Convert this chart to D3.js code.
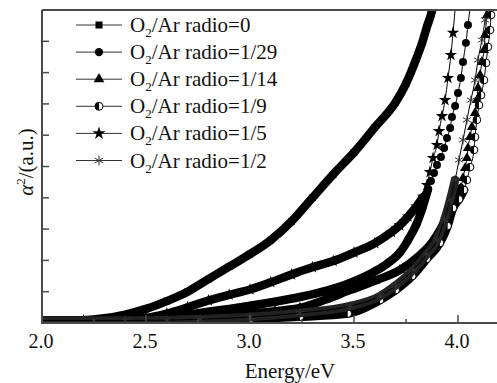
<!DOCTYPE html>
<html>
<head>
<meta charset="utf-8">
<script src="https://cdn.jsdelivr.net/npm/d3@7"></script>
<style>
  body { margin: 0; background: #fff; }
  svg { display: block; font-family: "Liberation Serif", "Times New Roman", serif; }
</style>
</head>
<body>
<svg id="chart" width="497" height="383"></svg>
<script>
// tick values / labels
const energyTicks = [2.0, 2.5, 3.0, 3.5, 4.0];
const energyMinor = [2.25, 2.75, 3.25, 3.75];
const alphaTicks = [0, 1, 2, 3, 4, 5, 6, 7, 8, 9, 10];
const legendLabels = ["=0", "=1/29", "=1/14", "=1/9", "=1/5", "=1/2"];

// series, [energy (eV), alpha^2 (a.u.)]
const ratio0 = [[2.00,0.08],[2.10,0.08],[2.20,0.09],[2.30,0.15],[2.40,0.27],[2.50,0.45],[2.60,0.70],[2.70,1.00],
  [2.80,1.40],[2.90,1.80],[3.00,2.20],[3.10,2.65],[3.20,3.25],[3.30,4.00],[3.40,4.75],[3.50,5.45],[3.60,6.25],
  [3.70,7.05],[3.75,7.65],[3.80,8.45],[3.83,9.00],[3.85,9.45],[3.87,9.85],[3.88,10.1]];
const ratio1_29 = [[2.00,0.08],[2.20,0.08],[2.40,0.09],[2.50,0.11],[2.60,0.16],[2.70,0.26],[2.80,0.36],[2.90,0.45],
  [3.00,0.55],[3.12,0.68],[3.24,0.83],[3.36,1.02],[3.48,1.28],[3.60,1.65],[3.66,1.90],[3.72,2.25],[3.76,2.65],
  [3.80,3.15],[3.83,3.70],[3.856,4.28],[3.870,4.54],[3.885,4.79],[3.899,5.05],[3.918,5.30],[3.933,5.59],
  [3.947,5.91],[3.962,6.23],[3.971,6.58],[3.986,6.93],[4.000,7.35],[4.014,7.83],[4.024,8.34],[4.038,8.95],
  [4.048,9.52],[4.06,10.15]];
const ratio1_14 = [[2.00,0.08],[2.30,0.08],[2.50,0.09],[2.60,0.10],[2.76,0.16],[2.90,0.23],[3.00,0.30],[3.12,0.38],
  [3.24,0.48],[3.36,0.74],[3.48,1.05],[3.60,1.35],[3.72,1.69],[3.817,2.17],[3.865,2.49],[3.913,2.97],[3.952,3.45],
  [3.986,3.93],[4.014,4.31],[4.024,4.63],[4.034,4.95],[4.043,5.27],[4.048,5.59],[4.058,5.94],[4.067,6.26],
  [4.082,6.71],[4.091,7.12],[4.096,7.51],[4.106,7.92],[4.115,8.34],[4.125,8.72],[4.130,9.20],[4.140,9.84],[4.146,10.2]];
const ratio1_9 = [[2.00,0.08],[2.40,0.08],[2.70,0.09],[2.90,0.11],[3.00,0.13],[3.24,0.20],[3.47,0.30],[3.625,0.73],
  [3.70,1.05],[3.78,1.50],[3.85,2.05],[3.913,2.56],[3.950,3.10],[3.976,3.67],[4.005,3.95],[4.029,4.25],[4.043,4.57],
  [4.058,4.98],[4.077,5.53],[4.082,5.94],[4.091,6.49],[4.101,6.96],[4.111,7.28],[4.125,7.76],[4.135,8.31],
  [4.144,8.82],[4.154,9.36],[4.159,9.84],[4.165,10.2]];
const ratio1_5 = [[2.00,0.08],[2.20,0.08],[2.40,0.10],[2.50,0.16],[2.60,0.30],[2.70,0.50],[2.80,0.72],[2.90,0.90],
  [3.00,1.07],[3.10,1.30],[3.20,1.55],[3.30,1.78],[3.40,1.98],[3.50,2.25],[3.60,2.55],[3.68,2.90],[3.72,3.12],
  [3.76,3.40],[3.80,3.72],[3.832,4.03],[3.851,4.41],[3.865,4.82],[3.880,5.27],[3.899,5.69],[3.909,6.13],
  [3.923,6.61],[3.938,7.12],[3.952,7.83],[3.966,8.56],[3.976,9.27],[3.99,10.3]];
const ratio1_2 = [[2.00,0.08],[2.40,0.08],[2.60,0.09],[2.76,0.12],[3.00,0.19],[3.24,0.32],[3.48,0.54],[3.625,0.86],
  [3.70,1.20],[3.784,1.69],[3.85,2.20],[3.899,2.65],[3.935,3.30],[3.962,3.93],[3.986,4.57],[4.005,5.21],[4.024,5.85],
  [4.043,6.49],[4.062,7.12],[4.082,7.76],[4.096,8.40],[4.115,9.04],[4.130,9.68],[4.14,10.2]];

const series = [
  { data: ratio0, sym: "square", band: 3.95 },
  { data: ratio1_29, sym: "circle", band: 3.86 },
  { data: ratio1_14, sym: "triangle", band: 4.02 },
  { data: ratio1_9, sym: "half", band: 4.03 },
  { data: ratio1_5, sym: "star", band: 3.84 },
  { data: ratio1_2, sym: "asterisk", band: 4.0 }
];

const svg = d3.select("#chart");
const x = d3.scaleLinear().domain([2, 4.2]).range([42, 499.6]);
const y = d3.scaleLinear().domain([0, 10]).range([323, 10]);

svg.append("defs").append("clipPath").attr("id", "plot")
  .append("rect").attr("x", 42).attr("y", 10).attr("width", 460).attr("height", 313);

function drawMarker(g, type, cx, cy, s) {
  if (type === "half") {
    g.append("circle").attr("cx", cx).attr("cy", cy).attr("r", 3.8 * s)
      .attr("fill", "#fff").attr("stroke", "#000").attr("stroke-width", 1);
    g.append("path")
      .attr("d", d3.arc()({ innerRadius: 0, outerRadius: 3.8 * s, startAngle: Math.PI, endAngle: 2 * Math.PI }))
      .attr("transform", `translate(${cx},${cy})`).attr("fill", "#000");
    return;
  }
  const types = { square: d3.symbolSquare, circle: d3.symbolCircle, triangle: d3.symbolTriangle,
    star: d3.symbolStar, asterisk: d3.symbolAsterisk };
  const sizes = { square: 45, circle: 50, triangle: 45, star: 48, asterisk: 60 };
  const p = g.append("path")
    .attr("d", d3.symbol().type(types[type]).size(sizes[type] * s * s)())
    .attr("transform", `translate(${cx},${cy})`);
  if (type === "asterisk") p.attr("fill", "none").attr("stroke", "#333").attr("stroke-width", 1);
  else p.attr("fill", "#000");
}

const plot = svg.append("g").attr("clip-path", "url(#plot)");
const line = d3.line().x(d => x(d[0])).y(d => y(d[1])).curve(d3.curveMonotoneX);

series.forEach(s => {
  const g = plot.append("g");
  g.append("path").datum(s.data.filter(d => d[0] <= s.band)).attr("d", line)
    .attr("fill", "none").attr("stroke", s.sym === "asterisk" ? "#222" : "#000")
    .attr("stroke-width", 8.5).attr("stroke-linejoin", "round").attr("stroke-linecap", "round");
  g.append("path").datum(s.data).attr("d", line)
    .attr("fill", "none").attr("stroke", "#000").attr("stroke-width", 1);
  s.data.forEach(d => drawMarker(g, s.sym, x(d[0]), y(d[1]), 1));
});

// frame
const axisColor = "#4a4a4a";
svg.append("line").attr("x1", 42).attr("x2", 497).attr("y1", 10).attr("y2", 10)
  .attr("stroke", axisColor).attr("stroke-width", 2);
svg.append("line").attr("x1", 42).attr("x2", 497).attr("y1", 323).attr("y2", 323)
  .attr("stroke", axisColor).attr("stroke-width", 2);
svg.append("line").attr("x1", 42).attr("x2", 42).attr("y1", 10).attr("y2", 324)
  .attr("stroke", axisColor).attr("stroke-width", 2);

// ticks (inward)
svg.selectAll(".ytick").data(alphaTicks).enter().append("line")
  .attr("x1", 42).attr("x2", 49).attr("y1", d => y(d)).attr("y2", d => y(d))
  .attr("stroke", axisColor).attr("stroke-width", 1.5);
svg.selectAll(".xtick").data(energyTicks).enter().append("line")
  .attr("x1", d => x(d)).attr("x2", d => x(d)).attr("y1", 323).attr("y2", 315)
  .attr("stroke", axisColor).attr("stroke-width", 1.5);
svg.selectAll(".xminor").data(energyMinor).enter().append("line")
  .attr("x1", d => x(d)).attr("x2", d => x(d)).attr("y1", 323).attr("y2", 319)
  .attr("stroke", axisColor).attr("stroke-width", 1.5);
svg.selectAll(".xlabel").data(energyTicks).enter().append("text")
  .attr("x", d => x(d) - 1).attr("y", 348).attr("text-anchor", "middle")
  .attr("font-size", 20).attr("fill", "#111").text(d => d.toFixed(1));

// axis titles
svg.append("text").attr("x", 290).attr("y", 378).attr("text-anchor", "middle")
  .attr("font-size", 21).attr("fill", "#111").text("Energy/eV");
const yt = svg.append("text").attr("transform", "translate(33,162) rotate(-90)")
  .attr("text-anchor", "middle").attr("font-size", 21).attr("fill", "#111");
yt.append("tspan").attr("font-style", "italic").text("α");
yt.append("tspan").attr("font-size", 13).attr("dy", -8).text("2");
yt.append("tspan").attr("dy", 8).text("/(a.u.)");

// legend
const legend = svg.append("g");
legendLabels.forEach((lab, i) => {
  const cy = 25 + i * 27.1;
  const row = legend.append("g");
  row.append("line").attr("x1", 76).attr("x2", 122).attr("y1", cy).attr("y2", cy)
    .attr("stroke", "#333").attr("stroke-width", 1);
  drawMarker(row, series[i].sym, 99, cy, 1.05);
  const t = row.append("text").attr("x", 130).attr("y", cy + 7).attr("font-size", 21).attr("fill", "#111");
  t.append("tspan").text("O");
  t.append("tspan").attr("font-size", 13).attr("dy", 5).text("2");
  t.append("tspan").attr("dy", -5).text("/Ar radio" + lab);
});
</script>
</body>
</html>
